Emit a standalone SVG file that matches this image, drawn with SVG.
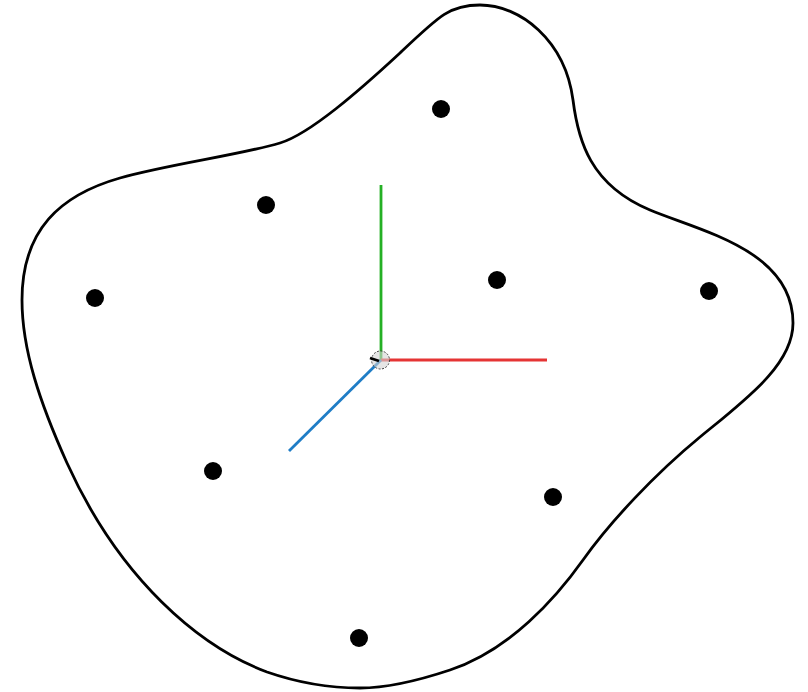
<svg xmlns="http://www.w3.org/2000/svg" width="808" height="692" viewBox="0 0 808 692">
  <style>
    .blob { fill: none; stroke: #000; stroke-width: 2.8; stroke-linejoin: round; }
    .pt { fill: #000; }
    .axis { stroke-width: 2.8; stroke-linecap: butt; fill: none; }
  </style>
  <rect width="808" height="692" fill="#fff"/>
  <g id="region">
    <path class="blob" d="M 22,300 C 22,230 60,195 120,178 C 170,164 240,155 280,143 C 310,134 360,90 400,53 C 440,15 450,5 480,5 C 520,5 565,40 573,100 C 578,140 590,185 650,210 C 700,231 793,250 793,323 C 793,365 745,400 700,437 C 655,474 610,522 583,560 C 556,598 510,650 450,670 C 420,680 390,688 360,688 C 320,688 290,680 267,672 C 200,647 120,580 67,463 C 40,403 22,350 22,300 Z"/>
  </g>
  <g id="points">
    <g id="p1"><circle class="pt" cx="441" cy="109" r="9"/></g>
    <g id="p2"><circle class="pt" cx="266" cy="205" r="9"/></g>
    <g id="p3"><circle class="pt" cx="95" cy="298" r="9"/></g>
    <g id="p4"><circle class="pt" cx="497" cy="280" r="9"/></g>
    <g id="p5"><circle class="pt" cx="709" cy="291" r="9"/></g>
    <g id="p6"><circle class="pt" cx="213" cy="471" r="9"/></g>
    <g id="p7"><circle class="pt" cx="553" cy="497" r="9"/></g>
    <g id="p8"><circle class="pt" cx="359" cy="638" r="9"/></g>
  </g>
  <g id="connectors">
    <line class="axis" x1="381" y1="360" x2="381" y2="185" stroke="#25b025"/>
    <line class="axis" x1="381" y1="360" x2="547" y2="360" stroke="#e53434"/>
    <line class="axis" x1="381" y1="360" x2="289" y2="451" stroke="#1f7dc6"/>
  </g>
  <g id="origin">
    <circle cx="380.5" cy="360" r="9" fill="#d4d4d4" fill-opacity="0.6" stroke="#444" stroke-width="1" stroke-dasharray="2,1.5"/>
    <line x1="370" y1="358" x2="379" y2="361" stroke="#000" stroke-width="2.8"/>
  </g>
</svg>
